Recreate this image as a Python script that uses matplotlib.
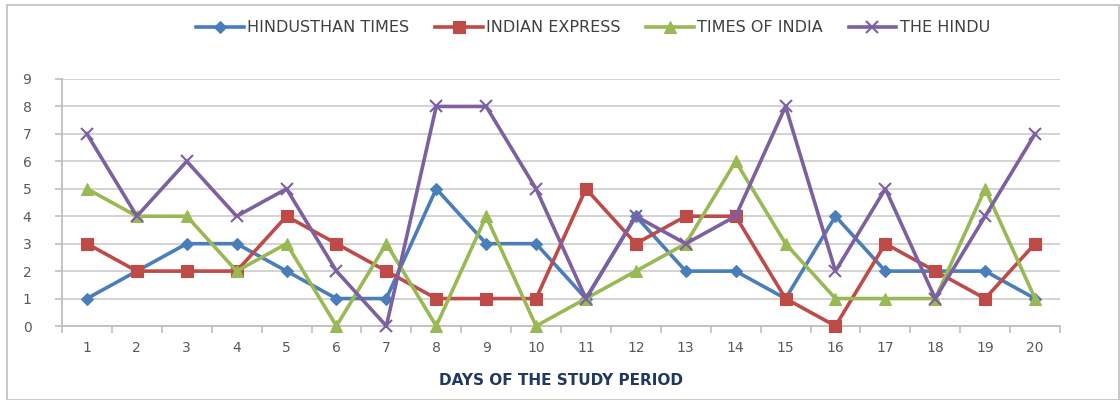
import matplotlib
matplotlib.use("Agg")
import matplotlib.pyplot as plt
from matplotlib.patches import Rectangle
import numpy as np

days = list(range(1, 21))
hindusthan_times = [1, 2, 3, 3, 2, 1, 1, 5, 3, 3, 1, 4, 2, 2, 1, 4, 2, 2, 2, 1]
indian_express = [3, 2, 2, 2, 4, 3, 2, 1, 1, 1, 5, 3, 4, 4, 1, 0, 3, 2, 1, 3]
times_of_india = [5, 4, 4, 2, 3, 0, 3, 0, 4, 0, 1, 2, 3, 6, 3, 1, 1, 1, 5, 1]
the_hindu = [7, 4, 6, 4, 5, 2, 0, 8, 8, 5, 1, 4, 3, 4, 8, 2, 5, 1, 4, 7]
y_ticks = list(range(0, 10))

series = [
    ("HINDUSTHAN TIMES", hindusthan_times, "#4A7EBB", "D", 6),
    ("INDIAN EXPRESS", indian_express, "#BE4B48", "s", 8),
    ("TIMES OF INDIA", times_of_india, "#98B954", "^", 8),
    ("THE HINDU", the_hindu, "#7D60A0", "x", 8),
]

plt.rcParams["font.family"] = ["DejaVu Sans"]

fig = plt.figure(figsize=(11.2, 4.0), dpi=100)
ax = fig.add_axes([62 / 1120, 74 / 400, 998 / 1120, 247 / 400])

# outer chart frame
fig.patches.append(Rectangle((7 / 1120, 0), 1112 / 1120, 395 / 400, transform=fig.transFigure,
                             fill=False, edgecolor="#BFBFBF", linewidth=1.2))

for name, values, color, marker, size in series:
    ax.plot(days, values, color=color, linewidth=2.6, marker=marker, markersize=size,
            markeredgewidth=1.5 if marker == "x" else 0.8, markeredgecolor=color,
            label=name, clip_on=False, zorder=3)

ax.set_xlim(0.5, 20.5)
ax.set_ylim(0, 9)
ax.set_yticks(y_ticks)
ax.set_xticks(days)
ax.set_xticks(np.arange(0.5, 21, 1), minor=True)
ax.tick_params(axis="x", which="major", length=0, pad=11, labelsize=10, labelcolor="#595959")
ax.tick_params(axis="x", which="minor", length=5, color="#BFBFBF", width=1.2)
ax.tick_params(axis="y", length=5, color="#BFBFBF", width=1.2, pad=17, labelsize=10, labelcolor="#595959")
ax.grid(axis="y", color="#D0D0D0", linewidth=1.3)
ax.set_axisbelow(True)
for side in ["top", "right"]:
    ax.spines[side].set_visible(False)
for side in ["left", "bottom"]:
    ax.spines[side].set_color("#BFBFBF")
    ax.spines[side].set_linewidth(1.3)

ax.set_xlabel("DAYS OF THE STUDY PERIOD", fontsize=11, fontweight="bold", color="#1F3864", labelpad=13)

fig.legend(loc="center", bbox_to_anchor=(593 / 1120, 1 - 28 / 400), ncol=4, frameon=False,
           prop={"size": 11.5}, handlelength=3.0, columnspacing=1.6,
           handletextpad=0.2, labelcolor="#404040")

fig.savefig("out.png", dpi=100)
plt.close(fig)
